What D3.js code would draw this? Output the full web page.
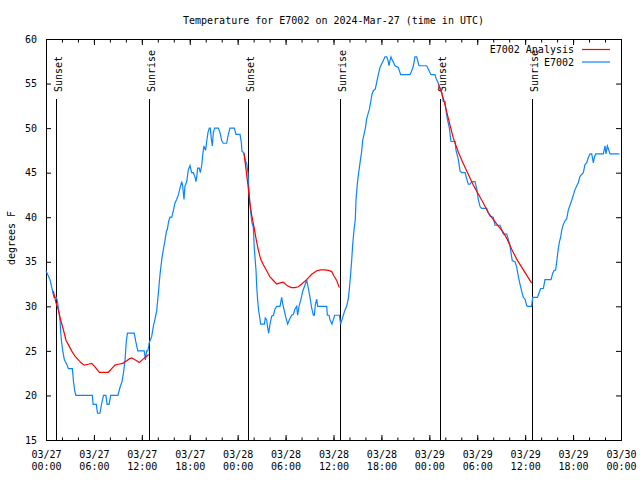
<!DOCTYPE html>
<html>
<head>
<meta charset="utf-8">
<script src="https://cdn.jsdelivr.net/npm/d3@7"></script>
<style>
  html, body { margin: 0; padding: 0; background: #fff; }
  svg { display: block; }
  text { font-family: "DejaVu Sans Mono", "Liberation Mono", monospace; font-size: 10px; fill: #000; }
</style>
</head>
<body>
<svg id="chart" width="640" height="480"></svg>
<script>
// ---------- DATA ----------
const titleText = "Temperature for E7002 on 2024-Mar-27 (time in UTC)";
const yLabel = "degrees F";
const startUTC = Date.UTC(2024, 2, 27, 0, 0);   // 03/27 00:00
const endUTC = Date.UTC(2024, 2, 30, 0, 0);     // 03/30 00:00
const yTicks = [15, 20, 25, 30, 35, 40, 45, 50, 55, 60];
const seriesNames = ["E7002 Analysis", "E7002"];

// Sun events (hours since 03/27 00:00 UTC)
const sunLabels = ["Sunset", "Sunrise", "Sunset", "Sunrise", "Sunset", "Sunrise"];
const sunHours = [1.25, 12.93, 25.33, 36.85, 49.37, 60.9];

// Observed E7002 temperature: hours since start, degrees F
const obsHours = [0.0,0.25,0.5,0.75,1.0,1.3,1.45,1.6,1.75,1.85,1.95,2.1,2.3,2.6,2.8,3.3,3.45,3.6,3.75,5.8,5.9,6.3,6.45,6.75,6.95,7.2,7.5,7.65,7.9,8.1,9.0,9.3,9.5,9.7,9.9,10.05,10.2,11.05,11.25,11.5,12.3,12.45,12.6,12.75,12.95,13.23,13.44,13.65,13.86,14.07,14.28,14.5,14.7,14.9,15.1,
15.19,15.35,15.53,15.75,15.94,16.15,16.36,16.57,16.99,17.1,17.28,17.4,17.62,17.82,18.03,18.24,18.45,18.66,18.78,18.87,18.99,19.2,19.32,19.5,19.62,19.78,19.99,20.12,20.28,20.45,20.57,20.7,20.83,20.95,21.12,21.58,21.79,22.0,22.2,22.62,22.83,23.04,23.58,23.79,24.29,24.46,24.54,24.79,24.96,25.13,25.29,25.42,25.54,25.67,25.79,
25.96,26.09,26.3,26.38,26.5,26.63,26.8,26.88,27.34,27.46,27.63,27.76,27.88,28.05,28.26,28.47,28.68,28.89,29.3,29.51,29.64,29.84,30.05,30.26,30.47,30.76,30.97,31.18,31.39,31.51,31.68,31.93,32.14,32.43,32.64,32.85,33.06,33.27,33.48,33.6,33.73,33.9,34.02,35.15,35.23,35.44,35.56,35.81,35.98,36.15,36.73,36.81,36.9,37.06,37.23,37.44,37.65,37.86,37.98,38.15,38.28,38.4,38.57,38.73,
38.82,38.98,39.15,39.32,39.53,39.65,39.82,39.99,40.15,40.32,40.49,40.65,40.82,40.99,41.24,41.4,41.61,41.82,42.03,42.24,42.45,42.66,42.82,42.95,43.08,43.2,43.37,43.5,43.7,44.12,44.41,45.58,45.79,46.0,46.2,46.42,46.7,47.67,47.88,48.21,48.71,48.84,49.13,49.34,49.54,49.75,49.96,50.09,50.26,50.51,50.71,51.22,51.34,51.63,51.84,52.05,52.47,52.68,52.89,53.09,53.3,53.72,53.93,54.13,54.35,54.55,55.18,55.38,55.6,56.0,56.22,56.85,57.06,57.27,57.69,57.89,58.1,58.23,58.39,58.73,58.94,59.14,59.35,59.56,59.77,59.98,60.19,60.27,60.81,60.94,61.53,61.78,61.94,62.28,62.48,63.24,63.44,63.61,63.82,63.95,64.15,64.28,64.45,64.57,64.78,64.99,65.2,65.4,65.83,66.24,66.66,66.87,67.28,67.49,67.7,67.91,68.12,68.33,68.54,68.66,68.83,69.79,70.0,70.12,70.29,70.45,70.62,71.8];
const obsTemps = [34,33.5,33,32,31,31,30.5,29.5,28.5,27,26,25,24,23.5,23,23,21.5,20.5,20,20,19,19,18,18,19,20,20,19,19,20,20,21,21.5,22.5,24,26,27,27,26,25,25,24,25,25,26,26.6,27.75,28.6,29.5,31.5,33.6,35.3,36.4,37.4,38.5,
38.6,39.5,40,40,40.7,41.6,42,42.5,44,43.6,42,43.5,44,45.3,45.8,45,45,44.5,44,44.5,45.5,45.5,45,45.8,47,48,47.5,48.5,49.5,50,50,48.8,48,49.5,50,50,49.5,48.6,48.3,48.3,49.3,50,50,49.3,49.3,48.4,47.4,47.2,46.4,46,45,43,41.5,40.3,39.4,
38.9,36.4,34,32.3,30.7,29.5,28.5,28,28,28.7,28.5,27.6,27,28,28.9,29,29.7,30,30,31,30.3,29.5,28.7,28,28.5,29,29.1,29.7,30,29,30,30.8,31.7,32.4,33,32,31,29.8,29,29,30.2,30.8,30,30,29,29,28.5,28,28.5,29,29,28.5,28,28.5,29,29.6,30,30.9,31.9,33.7,35.2,36.9,38.6,39.75,
42,43.7,45,46.1,47.4,48.6,49.3,50,51,51.6,52.1,52.9,53.8,54.2,54.4,55.1,56,56.8,57.2,57.6,58,58,57.6,57,57.6,58,57.6,57.4,57,56.8,56,56,56.4,57,58,58,57,57,56.6,56,56,55.6,55,54.5,54,53,53,52,51,50,48.5,48.5,47.5,46.5,45.2,45,45,44.3,43.7,43.7,44,44,43.2,42,41.2,41,41,40.5,40.1,40,39.1,39.1,38.6,38.1,38.1,37.5,36.8,36,35.1,35,34.4,33.4,32.5,31.7,31,30.8,30.1,30,30,31,31,31.6,32,32,33,33,33.7,34,34.1,35,36.5,37.2,37.8,38.5,39.2,39.6,39.8,40.8,41.9,43.1,43.9,44.6,45,45.9,46.1,46.7,47.1,47.1,46.1,46.7,47.1,47.1,48,47.1,48,47.6,47.1,47.1];

// E7002 Analysis (three night-time segments)
const analysis1Hours = [0.92,1.25,1.54,1.83,2.17,2.5,2.8,3.21,3.63,4.05,4.46,4.8,5.3,5.72,6.13,6.68,7.8,8.22,8.64,9.06,9.6,10.1,10.43,10.73,11.14,11.69,12.19,12.6,12.85];
const analysis1Temps = [31.7,30.4,29.6,28.5,27.4,26.2,25.7,25,24.4,24,23.6,23.4,23.5,23.6,23.2,22.6,22.6,23,23.4,23.5,23.6,23.9,24.1,24.2,24,23.7,24.1,24.4,24.6];
const analysis2Hours = [24.79,25.04,25.3,25.54,25.8,26.05,26.3,26.59,26.88,27.2,27.63,28.05,28.47,28.89,29.22,29.72,30.22,30.76,31.18,31.6,32.01,32.64,33.27,33.9,34.4,34.94,35.48,35.77,36.06,36.4,36.73];
const analysis2Temps = [47.2,45.4,43.5,41.5,40,38.9,37.6,36.3,35.3,34.7,34,33.3,32.9,32.5,32.6,32.7,32.3,32.1,32.1,32.2,32.5,33,33.6,34,34.1,34.1,34,33.9,33.4,32.9,32.1];
const analysis3Hours = [49.13,49.54,49.96,50.4,51.0,51.63,52.26,52.89,53.51,54.13,54.76,55.38,56.0,56.64,57.27,57.77,58.31,58.94,59.56,60.19,60.81];
const analysis3Temps = [54.9,54,52.6,51,48.9,47.3,46,44.8,43.6,42.6,41.6,40.5,39.75,39.0,38.3,37.5,36.4,35.3,34.4,33.5,32.6];

const colors = { analysis: "#ff0000", obs: "#0a84ff" };

// ---------- CHART ----------
const svg = d3.select("#chart");
const toDate = h => new Date(startUTC + h * 3600e3);

const x = d3.scaleUtc().domain([new Date(startUTC), new Date(endUTC)]).range([46, 621]);
const y = d3.scaleLinear().domain([15, 60]).range([440, 39]);

// Title
svg.append("text").attr("x", 333.5).attr("y", 23.5).attr("text-anchor", "middle").text(titleText);

// Minor + major ticks (bottom / top), inward
function styleAxis(g) {
  g.select(".domain").remove();
  g.selectAll(".tick line").attr("stroke", "#000");
  g.attr("font-family", null).attr("font-size", null);
}
svg.append("g").attr("transform", "translate(0,440)")
  .call(d3.axisBottom(x).ticks(d3.utcHour.every(2)).tickSize(-2.5).tickFormat(""))
  .call(styleAxis);
svg.append("g").attr("transform", "translate(0,440)")
  .call(d3.axisBottom(x).ticks(d3.utcHour.every(6)).tickSize(-5).tickFormat(""))
  .call(styleAxis);
svg.append("g").attr("transform", "translate(0,40)")
  .call(d3.axisTop(x).ticks(d3.utcHour.every(2)).tickSize(-2.5).tickFormat(""))
  .call(styleAxis);
svg.append("g").attr("transform", "translate(0,40)")
  .call(d3.axisTop(x).ticks(d3.utcHour.every(6)).tickSize(-5).tickFormat(""))
  .call(styleAxis);

// Y axes
svg.append("g").attr("transform", "translate(46,0)")
  .call(d3.axisLeft(y).tickValues(yTicks).tickSize(-5).tickPadding(9).tickFormat(d3.format("d")))
  .call(styleAxis);
svg.append("g").attr("transform", "translate(621,0)")
  .call(d3.axisRight(y).tickValues(yTicks).tickSize(-5).tickFormat(""))
  .call(styleAxis);

// X tick labels (two lines)
const fmtDay = d3.utcFormat("%m/%d"), fmtTime = d3.utcFormat("%H:%M");
const xl = svg.append("g").selectAll("text").data(x.ticks(d3.utcHour.every(6))).join("text")
  .attr("text-anchor", "middle")
  .attr("transform", d => `translate(${x(d) + 0.5},0)`);
xl.append("tspan").attr("x", 0).attr("y", 458).text(fmtDay);
xl.append("tspan").attr("x", 0).attr("y", 470).text(fmtTime);

// Y label
svg.append("text").attr("text-anchor", "middle")
  .attr("transform", "translate(15,238) rotate(-90)").text(yLabel);

// Frame
svg.append("rect").attr("x", 46.5).attr("y", 39.5).attr("width", 575).attr("height", 401)
  .attr("fill", "none").attr("stroke", "#000").attr("shape-rendering", "crispEdges");

// Sun lines + labels
const sunData = sunHours.map((h, i) => ({ h, label: sunLabels[i] }));
const sg = svg.append("g");
sg.selectAll("line").data(sunData).join("line")
  .attr("x1", d => Math.round(x(toDate(d.h))) + 0.5)
  .attr("x2", d => Math.round(x(toDate(d.h))) + 0.5)
  .attr("y1", 99).attr("y2", y(15))
  .attr("stroke", "#000").attr("shape-rendering", "crispEdges");
sg.selectAll("text").data(sunData).join("text")
  .attr("transform", d => `translate(${Math.round(x(toDate(d.h))) + 6},92) rotate(-90)`)
  .text(d => d.label);

// Lines
const line = d3.line().x(d => x(toDate(d[0]))).y(d => y(d[1]));
const zip = (a, b) => a.map((v, i) => [v, b[i]]);

svg.append("path").datum(zip(obsHours, obsTemps))
  .attr("fill", "none").attr("stroke", colors.obs).attr("stroke-width", 1.2)
  .attr("d", line);

[[analysis1Hours, analysis1Temps], [analysis2Hours, analysis2Temps], [analysis3Hours, analysis3Temps]]
  .forEach(([h, t]) => {
    svg.append("path").datum(zip(h, t))
      .attr("fill", "none").attr("stroke", colors.analysis).attr("stroke-width", 1.2)
      .attr("d", line);
  });

// Legend
const legend = svg.append("g");
const legendColors = [colors.analysis, colors.obs];
seriesNames.forEach((name, i) => {
  const yy = 49.5 + i * 12.5;
  legend.append("text").attr("x", 574).attr("y", yy + 3.5).attr("text-anchor", "end").text(name);
  legend.append("line").attr("x1", 582).attr("x2", 610).attr("y1", yy).attr("y2", yy)
    .attr("stroke", legendColors[i]).attr("stroke-width", 1.2);
});
</script>
</body>
</html>
